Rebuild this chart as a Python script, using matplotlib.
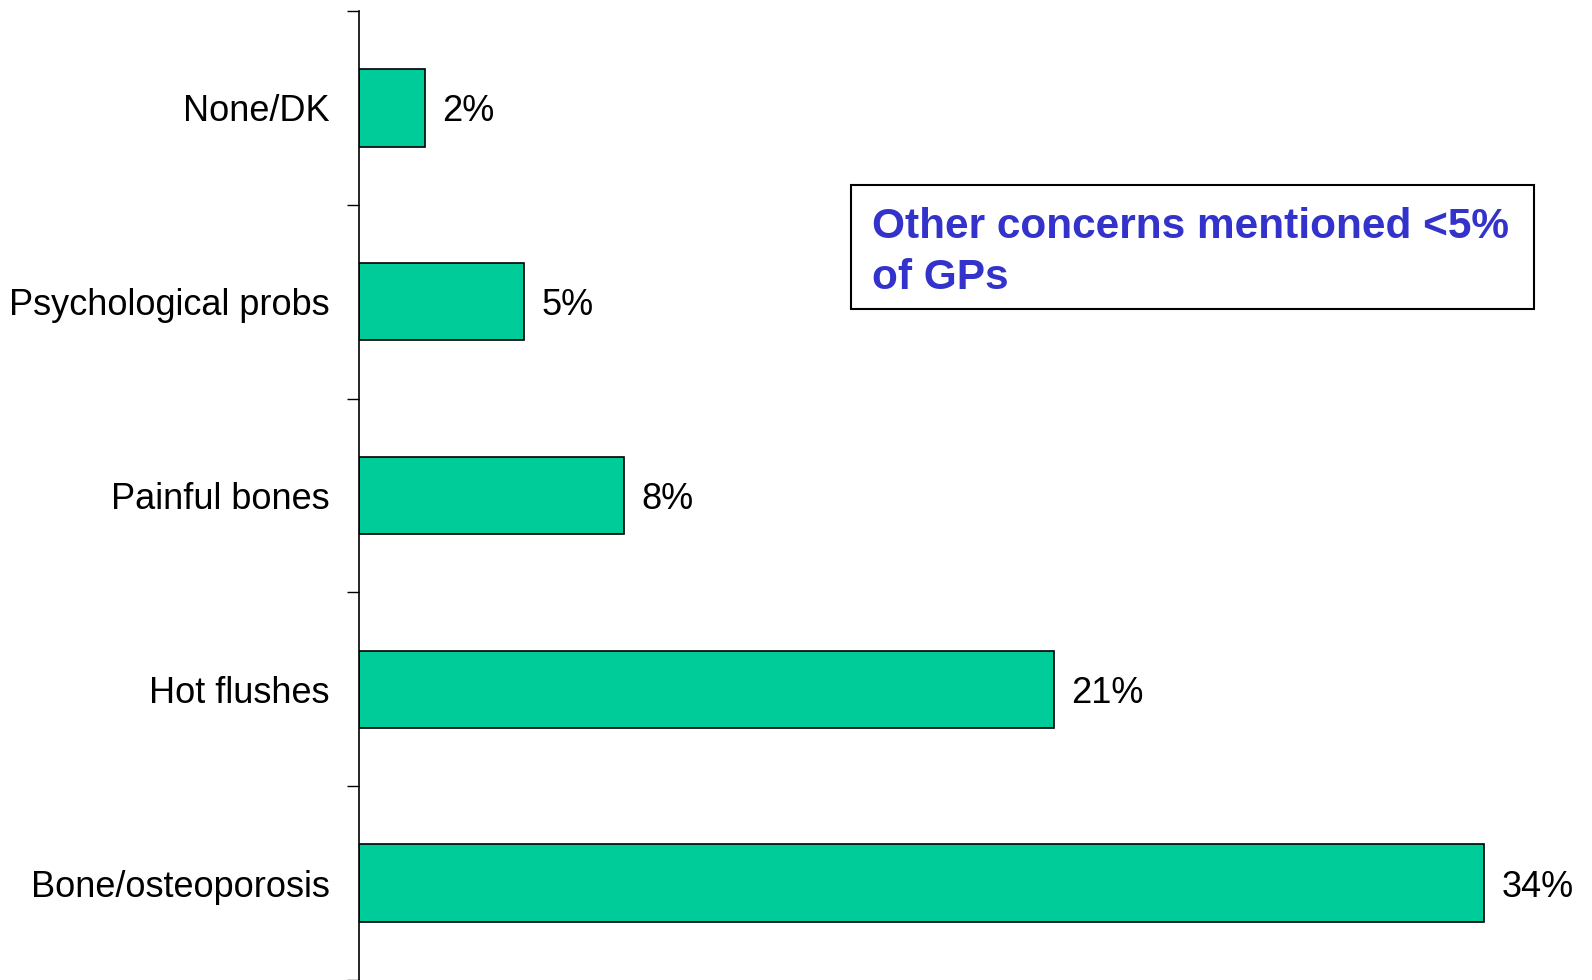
import matplotlib
matplotlib.use("Agg")
import matplotlib.pyplot as plt
from matplotlib.patches import Rectangle
import numpy as np

categories = ["Bone/osteoporosis", "Hot flushes", "Painful bones", "Psychological probs", "None/DK"]
values = [34, 21, 8, 5, 2]
value_labels = ["34%", "21%", "8%", "5%", "2%"]
note_lines = ["Other concerns mentioned <5%", "of GPs"]

plt.rcParams['font.family'] = ['Liberation Sans', 'DejaVu Sans']

W, H = 1592, 980
fig = plt.figure(figsize=(W / 100, H / 100), dpi=100)
ax_left, ax_right = 359, 1592
ax_top, ax_bottom = 11, 980
ax = fig.add_axes([ax_left / W, 1 - ax_bottom / H, (ax_right - ax_left) / W, (ax_bottom - ax_top) / H])

px_per_unit = (1484 - 359) / 34.0
xmax = (ax_right - ax_left) / px_per_unit
y = np.arange(len(categories))
ax.barh(y, values, height=0.4, color="#00CC99", edgecolor="black", linewidth=1.2)
ax.set_xlim(0, xmax)
ax.set_ylim(-0.5, len(categories) - 0.5)

for yi, v, lab in zip(y, values, value_labels):
    ax.annotate(lab, (v, yi), xytext=(12.5, 0), textcoords="offset points",
                va="center_baseline", ha="left", fontsize=26, color="black")

ax.set_yticks(y)
ax.set_yticklabels(categories, fontsize=26)
ax.tick_params(axis="y", which="major", length=0, pad=21)
ax.set_yticks(np.arange(-0.5, len(categories) + 0.5, 1.0), minor=True)
ax.tick_params(axis="y", which="minor", length=8.6, width=1.0, direction="out")
ax.set_xticks([])
for s in ["top", "right", "bottom"]:
    ax.spines[s].set_visible(False)
ax.spines["left"].set_linewidth(1.2)

# note box
bx0, bx1, by0, by1 = 851, 1534, 185, 309
fig.patches.append(Rectangle((bx0 / W, 1 - by1 / H), (bx1 - bx0) / W, (by1 - by0) / H,
                             transform=fig.transFigure, facecolor="white",
                             edgecolor="black", linewidth=1.5, zorder=5))
for line, base in zip(note_lines, [238, 289]):
    fig.text(872 / W, 1 - base / H, line, ha="left", va="baseline",
             fontsize=30.5, fontweight="bold", color="#3333CC", zorder=6)

fig.savefig("out.png", dpi=100)
